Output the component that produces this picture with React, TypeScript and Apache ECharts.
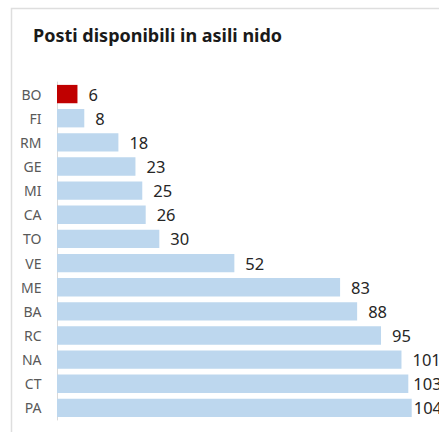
import React, { useEffect, useRef } from "react";
import * as echarts from "echarts";

const categories = ["BO", "FI", "RM", "GE", "MI", "CA", "TO", "VE", "ME", "BA", "RC", "NA", "CT", "PA"];
const values = [6, 8, 18, 23, 25, 26, 30, 52, 83, 88, 95, 101, 103, 104];
const highlight = "BO";
const titleText = "Posti disponibili in asili nido";

export default function App() {
  const ref = useRef<HTMLDivElement>(null);
  useEffect(() => {
    if (!ref.current) return;
    const chart = echarts.init(ref.current, null, { renderer: "svg" });
    const labelDistance: Record<string, number> = { CT: 5, PA: 2 };
    chart.setOption({
      animation: false,
      backgroundColor: "#ffffff",
      graphic: [
        {
          type: "rect",
          shape: { x: 11.5, y: 8.5, width: 500, height: 500 },
          style: { fill: "none", stroke: "#dedede", lineWidth: 1.5 },
          silent: true,
        },
      ],
      title: {
        text: titleText,
        left: 28,
        top: 21,
        textStyle: { fontFamily: "Noto Sans", fontWeight: "bold", fontSize: 18, color: "#1a1a1a" },
      },
      grid: { left: 57, right: 0, top: 82, height: 338, containLabel: false },
      xAxis: { type: "value", min: 0, max: 112, show: false },
      yAxis: {
        type: "category",
        inverse: true,
        data: categories,
        offset: 1.5,
        axisLine: { show: true, lineStyle: { color: "#d9d9d9", width: 1 } },
        axisTick: { show: false },
        axisLabel: { color: "#595959", fontFamily: "Noto Sans", fontSize: 14, margin: 14 },
      },
      series: [
        {
          type: "bar",
          barCategoryGap: "24%",
          data: values.map((v, i) => ({
            value: v,
            itemStyle: { color: categories[i] === highlight ? "#c00000" : "#bdd7ee" },
            label: { distance: labelDistance[categories[i]] ?? 11 },
          })),
          label: {
            show: true,
            position: "right",
            distance: 11,
            fontFamily: "Noto Sans",
            fontSize: 16.5,
            color: "#262626",
          },
        },
      ],
    });
    return () => chart.dispose();
  }, []);
  return (
    <div style={{ position: "absolute", left: 0, top: 0, width: 439, height: 432, overflow: "hidden" }}>
      <div ref={ref} style={{ width: 439, height: 432 }} />
    </div>
  );
}
